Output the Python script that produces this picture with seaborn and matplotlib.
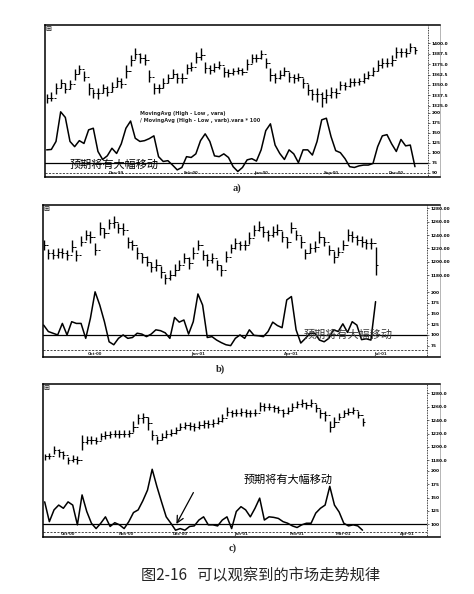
import matplotlib
matplotlib.use("Agg")
import matplotlib.pyplot as plt
import seaborn as sns
import numpy as np

# ── 1. DATA ──────────────────────────────────────────────
# panel a) — bars, close and the volatility-ratio oscillator
a_high = [1339, 1342, 1352, 1357, 1353, 1356, 1369, 1374, 1367, 1352, 1345, 1346, 1351, 1349, 1354, 1360,
          1359, 1374, 1386, 1394, 1388, 1387, 1368, 1353, 1351, 1358, 1363, 1369, 1364, 1364, 1375, 1378,
          1390, 1395, 1378, 1374, 1377, 1379, 1372, 1369, 1371, 1372, 1371, 1381, 1387, 1387, 1392, 1383,
          1370, 1364, 1368, 1372, 1366, 1363, 1365, 1359, 1351, 1345, 1346, 1342, 1345, 1348, 1347, 1355,
          1354, 1358, 1359, 1359, 1364, 1367, 1372, 1380, 1382, 1383, 1386, 1396, 1395, 1395, 1401, 1396]
a_low = [1329, 1331, 1339, 1347, 1340, 1345, 1356, 1363, 1355, 1338, 1335, 1333, 1340, 1337, 1342, 1348,
         1346, 1359, 1373, 1381, 1377, 1374, 1354, 1339, 1340, 1347, 1352, 1358, 1353, 1353, 1363, 1367,
         1377, 1380, 1364, 1363, 1366, 1369, 1360, 1360, 1362, 1363, 1362, 1368, 1376, 1378, 1381, 1370,
         1355, 1352, 1357, 1361, 1354, 1352, 1355, 1346, 1338, 1332, 1330, 1324, 1329, 1335, 1334, 1344,
         1344, 1348, 1349, 1350, 1353, 1357, 1361, 1367, 1371, 1372, 1373, 1383, 1384, 1384, 1390, 1387]
a_close = [1334, 1335, 1346, 1353, 1345, 1351, 1363, 1369, 1360, 1346, 1340, 1340, 1346, 1342, 1348, 1355,
           1351, 1367, 1380, 1387, 1382, 1380, 1360, 1346, 1346, 1352, 1358, 1363, 1358, 1359, 1370, 1372,
           1384, 1386, 1370, 1368, 1372, 1374, 1366, 1364, 1367, 1368, 1366, 1375, 1382, 1383, 1387, 1376,
           1362, 1358, 1362, 1367, 1360, 1358, 1360, 1352, 1344, 1339, 1339, 1334, 1338, 1342, 1340, 1350,
           1349, 1354, 1354, 1355, 1359, 1362, 1367, 1374, 1377, 1377, 1380, 1390, 1390, 1389, 1396, 1392]
a_osc = [107, 108, 128, 202, 188, 128, 115, 130, 123, 157, 161, 103, 83, 92, 111, 98,
         122, 161, 179, 136, 128, 130, 135, 142, 90, 78, 80, 69, 57, 63, 90, 88,
         97, 130, 147, 128, 92, 90, 97, 88, 65, 53, 63, 82, 85, 79, 107, 155,
         172, 119, 98, 83, 107, 97, 75, 107, 107, 94, 128, 182, 186, 140, 105, 100,
         85, 65, 63, 67, 69, 69, 73, 115, 142, 145, 122, 103, 133, 117, 119, 65]

# panel b)
b_high = [1233, 1219.5, 1219, 1221, 1220.5, 1217, 1232.5, 1218, 1239, 1247, 1245.5, 1227.5, 1259, 1250.5,
          1264.5, 1269, 1258, 1257.5, 1237, 1233, 1221.5, 1213.5, 1208, 1199.5, 1204, 1193, 1182, 1188,
          1196.5, 1202, 1213, 1206.5, 1222.5, 1232, 1217, 1211.5, 1213, 1202, 1195.5, 1216.5, 1227, 1235.5,
          1231, 1233, 1244, 1254.5, 1260.5, 1254, 1247, 1253, 1256.5, 1245.5, 1237, 1260, 1248, 1239,
          1219.5, 1228, 1231.5, 1245.5, 1237, 1225.5, 1216.5, 1222, 1233, 1249, 1245.5, 1239.5, 1238,
          1234.5, 1235.5, 1222.5]
b_low = [1218, 1204.5, 1204, 1206, 1205.5, 1202, 1214.5, 1201, 1223, 1232, 1228.5, 1209.5, 1240, 1235.5,
         1249.5, 1251, 1243, 1239.5, 1221, 1218, 1204.5, 1198.5, 1193, 1184.5, 1186, 1175, 1167, 1173,
         1178.5, 1187, 1198, 1189.5, 1203.5, 1218, 1202, 1193.5, 1198, 1187, 1178.5, 1199.5, 1213, 1218.5,
         1217, 1218, 1227, 1238.5, 1245.5, 1237, 1231, 1237, 1240.5, 1229.5, 1221, 1243, 1232, 1221,
         1204.5, 1213, 1214.5, 1228.5, 1223, 1209.5, 1198.5, 1208, 1217, 1231, 1229.5, 1225.5, 1222,
         1218.5, 1219.5, 1180]
b_close = [1225, 1212.5, 1210, 1215, 1212.5, 1210, 1222.5, 1210, 1230, 1240, 1237.5, 1217.5, 1250, 1242.5,
           1257.5, 1260, 1250, 1247.5, 1230, 1225, 1212.5, 1207.5, 1200, 1192.5, 1195, 1185, 1175, 1180,
           1187.5, 1195, 1205, 1197.5, 1212.5, 1225, 1210, 1202.5, 1205, 1195, 1187.5, 1207.5, 1220, 1227.5,
           1225, 1225, 1235, 1247.5, 1252.5, 1245, 1240, 1245, 1247.5, 1237.5, 1230, 1250, 1240, 1230,
           1212.5, 1220, 1222.5, 1237.5, 1230, 1217.5, 1207.5, 1215, 1225, 1240, 1237.5, 1232.5, 1230,
           1227.5, 1227.5, 1195]
b_osc = [123, 108, 104, 100, 127, 100, 131, 127, 127, 92, 139, 201, 170, 131, 84, 77,
         92, 100, 92, 94, 104, 102, 96, 102, 112, 110, 105, 92, 141, 130, 135, 102,
         131, 196, 170, 94, 96, 88, 82, 77, 75, 92, 100, 92, 112, 99, 98, 96,
         108, 130, 122, 117, 182, 190, 112, 81, 92, 104, 104, 88, 84, 92, 112, 108,
         126, 106, 131, 123, 89, 91, 88, 178]

# panel c)
c_high = [1190, 1191, 1202, 1197.5, 1193.5, 1185, 1188.5, 1186, 1217.5, 1216, 1216, 1215, 1221, 1223.5,
          1224, 1226, 1225, 1226, 1226, 1238, 1248.5, 1251, 1244, 1225.5, 1217, 1221, 1225, 1227, 1230,
          1236, 1237.5, 1237, 1235, 1238.5, 1240, 1240, 1241, 1245, 1248.5, 1259.5, 1255, 1257, 1257.5,
          1256, 1255, 1257, 1267, 1265, 1266, 1262.5, 1261, 1256, 1260, 1266, 1269, 1271, 1267.5, 1271,
          1264.5, 1256, 1253.5, 1238, 1244.5, 1251, 1255, 1258.5, 1260, 1253.5, 1242.5]
c_low = [1181, 1182, 1189, 1185.5, 1182.5, 1174, 1177.5, 1175, 1195.5, 1205, 1205, 1204, 1210, 1212.5,
         1213, 1215, 1214, 1215, 1215, 1223, 1234.5, 1235, 1225, 1210.5, 1204, 1210, 1214, 1216, 1219,
         1225, 1226.5, 1226, 1224, 1227.5, 1229, 1229, 1230, 1234, 1236.5, 1246.5, 1244, 1246, 1246.5,
         1245, 1244, 1246, 1254, 1254, 1255, 1251.5, 1250, 1245, 1249, 1254, 1258, 1260, 1256.5, 1260,
         1251.5, 1243, 1238.5, 1223, 1230.5, 1240, 1244, 1247.5, 1249, 1242.5, 1231.5]
c_close = [1186, 1186, 1195, 1192.5, 1187.5, 1180, 1182.5, 1181, 1207.5, 1210, 1211, 1209, 1216, 1217.5,
           1219, 1220, 1220, 1220, 1221, 1230, 1242.5, 1244, 1235, 1217.5, 1210, 1215, 1220, 1221, 1225,
           1230, 1232.5, 1231, 1230, 1232.5, 1235, 1234, 1236, 1239, 1242.5, 1252.5, 1250, 1251, 1252.5,
           1250, 1250, 1251, 1261, 1260, 1260, 1257.5, 1255, 1251, 1254, 1260, 1264, 1265, 1262.5, 1265,
           1257.5, 1250, 1247.5, 1230, 1237.5, 1245, 1250, 1252.5, 1255, 1247.5, 1237.5]
c_osc = [142, 105, 127, 136, 130, 142, 136, 99, 155, 124, 102, 92, 102, 114, 96, 103,
         99, 92, 105, 122, 127, 144, 164, 203, 171, 142, 114, 102, 89, 92, 89, 96,
         97, 108, 114, 99, 99, 97, 108, 114, 92, 124, 133, 127, 114, 130, 149, 108,
         114, 113, 111, 105, 102, 97, 94, 99, 102, 102, 121, 130, 136, 171, 136, 123,
         102, 97, 99, 97, 89]

ref_levels = [75, 100, 100]
formula_lines = ["MovingAvg (High - Low , vara)", "/ MovingAvg (High - Low , varb).vara * 100"]
note_text = "预期将有大幅移动"
captions = ["a)", "b)", "c)"]
fig_title = "图2-16   可以观察到的市场走势规律"

a_dates = ["Dec-99", "Feb-00", "Jun-00", "Sep-00", "Dec-00"]
a_date_pos = [15, 31, 46, 61, 75]
b_dates = ["Oct-00", "Jan-01", "Apr-01", "Jul-01"]
b_date_pos = [11, 33, 53, 72]
c_dates = ["Oct-00", "Nov-00", "Dec-00", "Jan-01", "Feb-01", "Mar-01", "Apr-01"]
c_date_pos = [5, 17.5, 29, 42, 54, 64, 77.5]

a_price_ticks = [1325, 1337.5, 1350, 1362.5, 1375, 1387.5, 1400]
b_price_ticks = [1180, 1200, 1220, 1240, 1260, 1280]
c_price_ticks = [1180, 1200, 1220, 1240, 1260, 1280]
a_osc_ticks = [50, 75, 100, 125, 150, 175, 200]
b_osc_ticks = [75, 100, 125, 150, 175, 200]
c_osc_ticks = [100, 125, 150, 175, 200]

# ── 2. FIGURE ────────────────────────────────────────────
sns.set_theme(style="white")
plt.rcParams["font.family"] = ["DejaVu Sans", "Noto Sans CJK SC"]
CJK = ["Noto Sans CJK SC", "DejaVu Sans"]

W, H = 474, 594
fig = plt.figure(figsize=(W / 100, H / 100), dpi=100)
fig.patch.set_facecolor("white")


def place(x0, y0, x1, y1):
    # pixel box of the scan -> figure fraction
    return fig.add_axes([x0 / W, 1 - y1 / H, (x1 - x0) / W, (y1 - y0) / H])


def draw_panel(frame_box, px_right, price_rows, osc_rows, xlim, price_lim, osc_lim,
               high, low, close, osc, ref, dash, p_ticks, p_fmt, o_ticks, dates, date_pos):
    x0, y0, x1, y1 = frame_box
    fr = place(x0, y0, x1, y1)
    fr.set_xticks([]); fr.set_yticks([])
    for s in ["left", "top", "bottom"]:
        fr.spines[s].set_color("black"); fr.spines[s].set_linewidth(1.1)
    fr.spines["right"].set_color("#999999"); fr.spines["right"].set_linewidth(0.5)
    fr.axvline((px_right - x0) / (x1 - x0), color="black", lw=0.6, ls=(0, (1, 1)))

    pa = place(x0, price_rows[0], px_right, price_rows[1])
    oa = place(x0, osc_rows[0], px_right, osc_rows[1])
    idx = np.arange(len(close))

    # OHLC-style bars
    pa.vlines(idx, low, high, color="black", lw=1.0)
    pa.hlines(close, idx, idx + 0.45, color="black", lw=0.7)
    pa.hlines(close[:-1], idx[1:] - 0.45, idx[1:], color="black", lw=0.7)
    pa.set_ylim(*price_lim)
    pa.set_yticks(p_ticks)
    pa.set_yticklabels([p_fmt % t for t in p_ticks])

    # oscillator
    sns.lineplot(x=idx, y=osc, ax=oa, color="black", lw=1.1)
    oa.axhline(ref, color="black", lw=0.9)
    oa.axhline(dash, color="black", lw=0.5, ls=(0, (3, 2)))
    oa.set_ylim(*osc_lim)
    oa.set_yticks(o_ticks)
    oa.set_yticklabels([str(t) for t in o_ticks])
    oa.set_xticks(date_pos)
    oa.set_xticklabels(dates)
    oa.tick_params(axis="x", length=0, labelsize=2.8, pad=-2.2)
    for lab in oa.get_xticklabels():
        lab.set_fontweight("bold")

    for ax in (pa, oa):
        ax.set_xlim(*xlim)
        ax.patch.set_alpha(0)
        for s in ax.spines.values():
            s.set_visible(False)
        ax.yaxis.tick_right()
        ax.tick_params(axis="y", length=1.5, width=0.4, labelsize=3.1, pad=1, colors="black")
        for lab in ax.get_yticklabels():
            lab.set_fontweight("bold")
        ax.set_xlabel(""); ax.set_ylabel("")
    pa.set_xticks([])
    return pa, oa


# ── 3. PANEL a) ──────────────────────────────────────────
pa, oa = draw_panel((45, 25, 440, 177), 428, (25, 112), (108.3, 174), (-0.36, 81.8),
                    (1317.6, 1422), (46.7, 210.8), a_high, a_low, a_close, a_osc,
                    ref_levels[0], 50, a_price_ticks, "%.1f", a_osc_ticks, a_dates, a_date_pos)
oa.text(20, 198, formula_lines[0], fontsize=3.6, fontweight="bold", va="center", ha="left")
oa.text(20, 181, formula_lines[1], fontsize=3.6, fontweight="bold", va="center", ha="left")
oa.text(5, 69, note_text, family=CJK, fontsize=8, va="center", ha="left", color="black")

# ── 4. PANEL b) ──────────────────────────────────────────
pb, ob = draw_panel((43, 205, 440, 357), 427, (205, 285), (285, 355), (-0.14, 82),
                    (1165, 1285), (53, 217), b_high, b_low, b_close, b_osc,
                    ref_levels[1], 65, b_price_ticks, "%.2f", b_osc_ticks, b_dates, b_date_pos)
ob.text(55.6, 101, note_text, family=CJK, fontsize=8, va="center", ha="left",
        color="#3a3a3a", zorder=5)

# ── 5. PANEL c) ──────────────────────────────────────────
pc, oc = draw_panel((43, 384, 440, 537), 427, (384, 467), (465, 535), (-0.36, 81.8),
                    (1170, 1294), (80, 211), c_high, c_low, c_close, c_osc,
                    ref_levels[2], 86, c_price_ticks, "%.1f", c_osc_ticks, c_dates, c_date_pos)
oc.text(42.5, 184, note_text, family=CJK, fontsize=8, va="center", ha="left", color="black")
oc.annotate("", xy=(27.9, 96), xytext=(32.1, 164),
            arrowprops=dict(arrowstyle="->", color="black", lw=0.9))

# ── 6. CAPTIONS ──────────────────────────────────────────
for (cx, cy), cap in zip([(237, 188), (220, 369), (233, 548)], captions):
    fig.text(cx / W, 1 - cy / H, cap, family="Liberation Serif", fontweight="bold",
             fontsize=7.5, ha="center", va="center")
fig.text(261 / W, 1 - 575 / H, fig_title, family=CJK, fontsize=11, ha="center", va="center")

for fx, fy in [(48, 29), (46, 209), (46, 388)]:
    fig.text(fx / W, 1 - fy / H, "⊞", fontsize=5, fontweight="bold", ha="center", va="center")

plt.savefig("out.png", dpi=100)
plt.close()
